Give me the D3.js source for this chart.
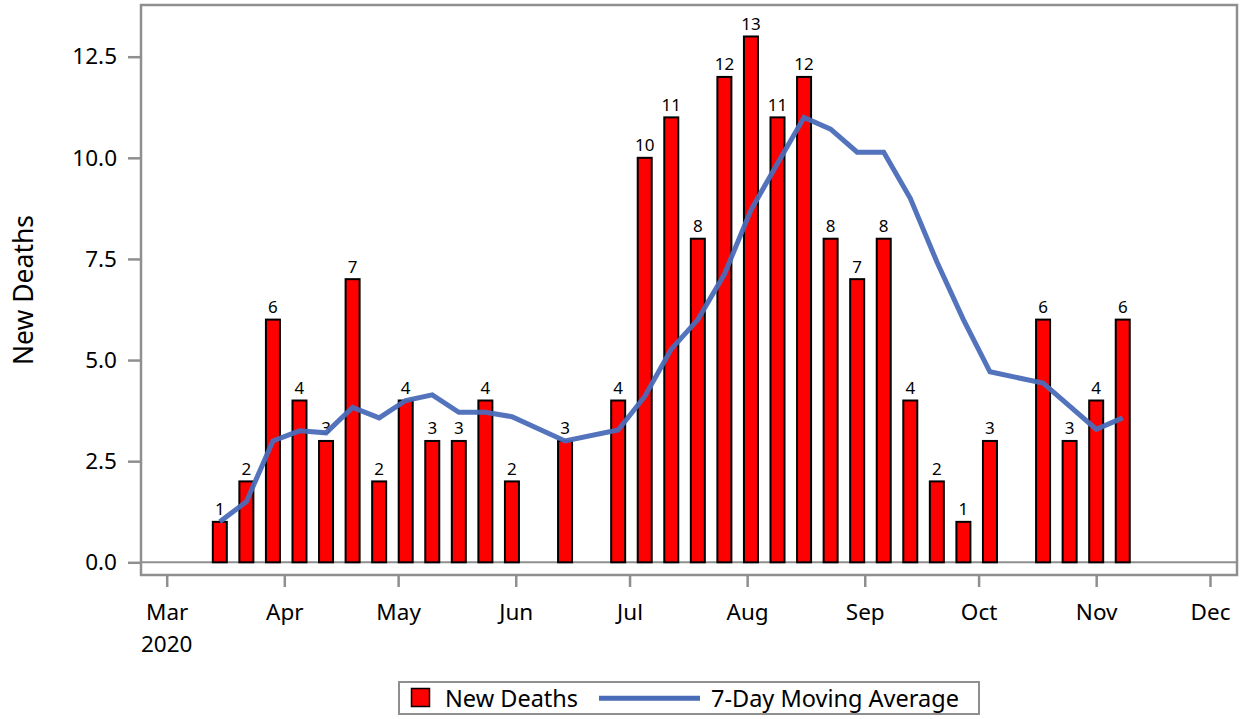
<!DOCTYPE html>
<html><head><meta charset="utf-8">
<script src="https://cdn.jsdelivr.net/npm/d3@7"></script>
<style>body{margin:0;background:#fff}svg{display:block}text{font-family:"Noto Sans",sans-serif;fill:#000}</style>
</head><body><svg id="c" width="1243" height="719"></svg>
<script>
const weeks = ["2020-03-15","2020-03-22","2020-03-29","2020-04-05","2020-04-12","2020-04-19","2020-04-26","2020-05-03","2020-05-10","2020-05-17","2020-05-24","2020-05-31","2020-06-14","2020-06-28","2020-07-05","2020-07-12","2020-07-19","2020-07-26","2020-08-02","2020-08-09","2020-08-16","2020-08-23","2020-08-30","2020-09-06","2020-09-13","2020-09-20","2020-09-27","2020-10-04","2020-10-18","2020-10-25","2020-11-01","2020-11-08"];
const newDeaths = [1,2,6,4,3,7,2,4,3,3,4,2,3,4,10,11,8,12,13,11,12,8,7,8,4,2,1,3,6,3,4,6];
const movingAvg = [1.0,1.5,3.0,3.25,3.2,3.83,3.57,4.0,4.14,3.71,3.71,3.6,3.0,3.27,4.1,5.27,6.0,7.12,8.71,9.86,11.0,10.71,10.14,10.14,9.0,7.43,6.0,4.71,4.43,3.86,3.29,3.57];
const monthTicks = ["2020-03-01","2020-04-01","2020-05-01","2020-06-01","2020-07-01","2020-08-01","2020-09-01","2020-10-01","2020-11-01","2020-12-01"];
const monthLabels = ["Mar","Apr","May","Jun","Jul","Aug","Sep","Oct","Nov","Dec"];
const yTicks = [0,2.5,5,7.5,10,12.5];
const seriesNames = ["New Deaths","7-Day Moving Average"];

const parse = d3.utcParse("%Y-%m-%d");
const svg = d3.select("#c");
const frame = {l:141,r:1237,t:5,b:575};
const x = d3.scaleUtc().domain([parse(monthTicks[0]), parse(monthTicks[monthTicks.length-1])]).range([166.7,1210]);
const y = d3.scaleLinear().domain([0,12.5]).range([562.3,56.7]);
const gray = "#8f8f8f";
const barW = 14;
const tickFont = "22.5px";

// zero reference line
svg.append("line").attr("x1",frame.l).attr("x2",frame.r).attr("y1",y(0)).attr("y2",y(0))
  .attr("stroke",gray).attr("stroke-width",2);

// bars
const data = weeks.map((w,i)=>({d:parse(w),v:newDeaths[i],m:movingAvg[i]}));
svg.append("g").selectAll("rect").data(data).join("rect")
  .attr("x",d=>x(d.d)-barW/2).attr("width",barW)
  .attr("y",d=>y(d.v)).attr("height",d=>y(0)-y(d.v))
  .attr("fill","#ff0000").attr("stroke","#000").attr("stroke-width",2);
svg.append("g").selectAll("text").data(data).join("text")
  .attr("x",d=>x(d.d)).attr("y",d=>y(d.v)-6.5).attr("text-anchor","middle")
  .style("font-size","17px").text(d=>d.v);

// moving average line
svg.append("path").datum(data)
  .attr("d",d3.line().x(d=>x(d.d)).y(d=>y(d.m)))
  .attr("fill","none").attr("stroke","#4a6bb8").attr("stroke-width",5).attr("stroke-opacity",0.95);

// frame
svg.append("rect").attr("x",frame.l).attr("y",frame.t).attr("width",frame.r-frame.l).attr("height",frame.b-frame.t)
  .attr("fill","none").attr("stroke",gray).attr("stroke-width",2.5);

// y axis
const ya = svg.append("g").attr("transform",`translate(${frame.l},0)`)
  .call(d3.axisLeft(y).tickValues(yTicks).tickFormat(d3.format(".1f")).tickSize(13).tickPadding(11));
ya.select(".domain").remove();
ya.selectAll("line").attr("stroke",gray).attr("stroke-width",2.5);
ya.selectAll("text").style("font-size",tickFont).attr("fill","#000").attr("font-family",null);

// x axis
const xa = svg.append("g").attr("transform",`translate(0,${frame.b})`)
  .call(d3.axisBottom(x).tickValues(monthTicks.map(parse)).tickFormat((d,i)=>monthLabels[i]).tickSize(12).tickPadding(17));
xa.select(".domain").remove();
xa.selectAll("line").attr("stroke",gray).attr("stroke-width",2.5);
xa.selectAll("text").style("font-size",tickFont).attr("fill","#000").attr("font-family",null);
svg.append("text").attr("x",x(parse(monthTicks[0]))).attr("y",652).attr("text-anchor","middle")
  .style("font-size",tickFont).text("2020");

// y title
svg.append("text").attr("transform","translate(33,290) rotate(-90)").attr("text-anchor","middle")
  .style("font-size","26.5px").text("New Deaths");

// legend
const lg = svg.append("g");
lg.append("rect").attr("x",399).attr("y",682).attr("width",580).attr("height",32)
  .attr("fill","#fff").attr("stroke",gray).attr("stroke-width",2);
lg.append("rect").attr("x",411.5).attr("y",688.5).attr("width",18).attr("height",18)
  .attr("fill","#ff0000").attr("stroke","#000").attr("stroke-width",1.5);
lg.append("text").attr("x",445).attr("y",706.5).style("font-size","23.5px").text(seriesNames[0]);
lg.append("line").attr("x1",599).attr("x2",700).attr("y1",698.3).attr("y2",698.3)
  .attr("stroke","#4a6bb8").attr("stroke-width",5);
lg.append("text").attr("x",711).attr("y",706.5).style("font-size","23.5px").text(seriesNames[1]);
</script></body></html>
